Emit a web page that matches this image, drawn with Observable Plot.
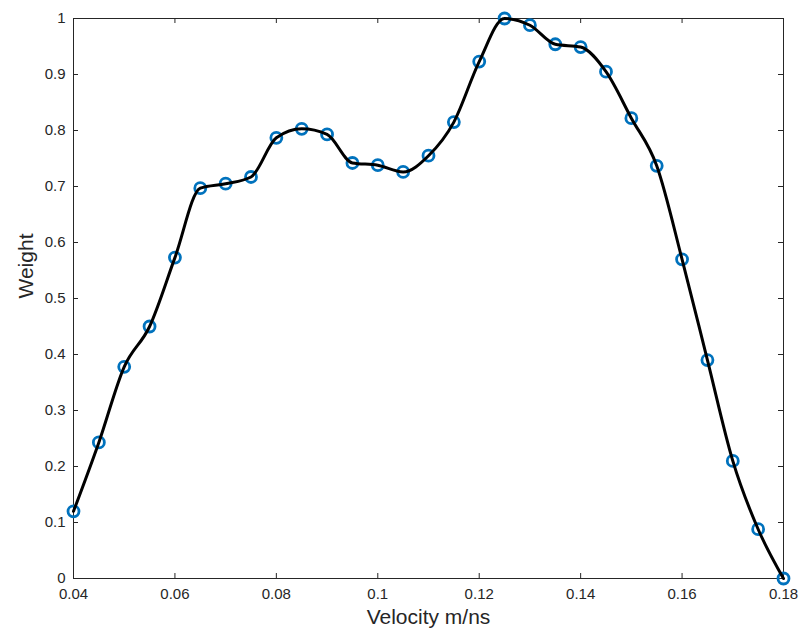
<!DOCTYPE html>
<html>
<head>
<meta charset="utf-8">
<script src="https://cdn.jsdelivr.net/npm/d3@7"></script>
<script src="https://cdn.jsdelivr.net/npm/@observablehq/plot@0.6"></script>
<style>
  html, body { margin: 0; padding: 0; background: #fff; }
  #chart svg { display: block; }
</style>
</head>
<body>
<div id="chart"></div>
<script>
const velocity = [0.04, 0.045, 0.05, 0.055, 0.06, 0.065, 0.07, 0.075, 0.08, 0.085,
  0.09, 0.095, 0.1, 0.105, 0.11, 0.115, 0.12, 0.125, 0.13, 0.135,
  0.14, 0.145, 0.15, 0.155, 0.16, 0.165, 0.17, 0.175, 0.18];
const weight = [0.12, 0.243, 0.378, 0.45, 0.573, 0.697, 0.705, 0.717, 0.787, 0.803,
  0.793, 0.742, 0.738, 0.726, 0.755, 0.815, 0.923, 1.0, 0.988, 0.954,
  0.949, 0.905, 0.822, 0.737, 0.57, 0.39, 0.21, 0.088, 0.0];
const xTicks = [0.04, 0.06, 0.08, 0.1, 0.12, 0.14, 0.16, 0.18];
const yTicks = [0, 0.1, 0.2, 0.3, 0.4, 0.5, 0.6, 0.7, 0.8, 0.9, 1];
const xLabel = "Velocity m/ns";
const yLabel = "Weight";

const data = velocity.map((v, i) => ({v, w: weight[i]}));

const W = 799, H = 635;
const mL = 73, mR = 16, mT = 18, mB = 57;
const innerW = W - mL - mR, innerH = H - mT - mB;
const tick = 5;
const axisColor = "#262626";

const chart = Plot.plot({
  width: W,
  height: H,
  marginLeft: mL,
  marginRight: mR,
  marginTop: mT,
  marginBottom: mB,
  style: {fontFamily: "'Liberation Sans', Arial, sans-serif", background: "#fff", color: axisColor},
  x: {domain: [0.04, 0.18]},
  y: {domain: [0, 1]},
  marks: [
    Plot.frame({stroke: axisColor, strokeWidth: 1}),
    Plot.tickX(xTicks, {x: d => d, stroke: axisColor, insetTop: innerH - tick}),
    Plot.tickX(xTicks, {x: d => d, stroke: axisColor, insetBottom: innerH - tick}),
    Plot.tickY(yTicks, {y: d => d, stroke: axisColor, insetRight: innerW - tick}),
    Plot.tickY(yTicks, {y: d => d, stroke: axisColor, insetLeft: innerW - tick}),
    Plot.axisX(xTicks, {tickSize: 0, tickPadding: 10, fontSize: 15, label: null, tickFormat: d3.format("")}),
    Plot.axisY(yTicks, {tickSize: 0, tickPadding: 8, fontSize: 15, label: null, tickFormat: d3.format("")}),
    Plot.dot(data, {x: "v", y: "w", r: 5.5, stroke: "#0072BD", strokeWidth: 2.8, fill: "none"}),
    Plot.line(data, {x: "v", y: "w", stroke: "#000", strokeWidth: 3, curve: "monotone-x"}),
    Plot.text([xLabel], {frameAnchor: "bottom", dy: 45, fontSize: 21, fill: axisColor}),
    Plot.text([yLabel], {frameAnchor: "left", dx: -47, rotate: -90, fontSize: 21, fill: axisColor})
  ]
});
document.getElementById("chart").appendChild(chart);
</script>
</body>
</html>
